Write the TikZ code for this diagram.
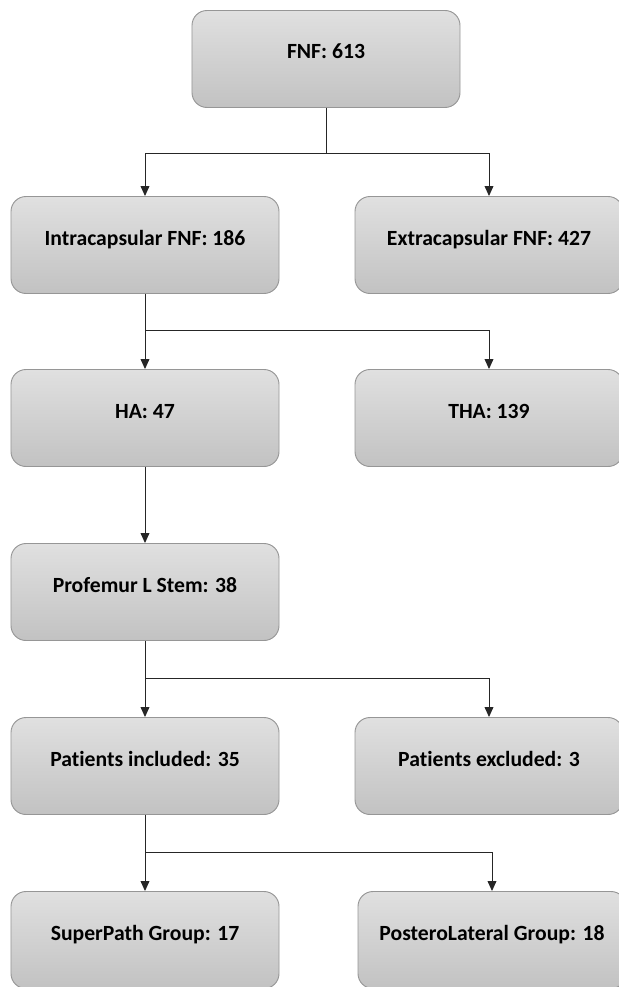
\documentclass[tikz,border=0pt]{standalone}
\usepackage{fontspec}
\setmainfont{Carlito}[RawFeature={-liga;-clig;-dlig;-calt;-rlig}]
\usetikzlibrary{arrows.meta}
\definecolor{boxTop}{RGB}{224,224,224}
\definecolor{boxBottom}{RGB}{194,194,194}
\definecolor{boxBorder}{RGB}{150,150,150}
\tikzset{
  box/.style = {draw=boxBorder, line width=0.8pt, rounded corners=0.45cm, top color=boxTop, bottom color=boxBottom, minimum width=8.04cm, minimum height=2.91cm, font=\fontsize{18.5}{20}\selectfont\bfseries, text height=0.3cm, text depth=0.3cm},
  link/.style = {color=#1, line width=0.8pt},
  flow/.style = {color=#1, line width=0.8pt, -{Triangle[width=7.5pt,length=8.5pt]}}
}

\begin{document}
\begin{tikzpicture}[x=0.03cm, y=-0.03cm]

    \useasboundingbox (0,0) rectangle (618,987);

    % Boxes
    \node[box] (fnf) at (326,59) {FNF: 613};
    \node[box] (intra) at (145,245) {Intracapsular FNF: 186};
    \node[box] (extra) at (489,245) {Extracapsular FNF: 427};
    \node[box] (ha) at (145,418) {HA: 47};
    \node[box] (tha) at (489,418) {THA: 139};
    \node[box] (profemur) at (145,592) {Profemur L Stem: 38};
    \node[box] (incl) at (145,766) {Patients included: 35};
    \node[box] (excl) at (489,766) {Patients excluded: 3};
    \node[box] (superpath) at (145,940) {SuperPath Group: 17};
    \node[box] (postero) at (492,940) {PosteroLateral Group: 18};

    % Junctions
    \coordinate (j1) at (326,153);
    \coordinate (j2) at (145,330);
    \coordinate (j3) at (145,678);
    \coordinate (j4) at (145,852);

    % Connectors
    \draw[link={black!85}] (fnf.south) -- (j1);
    \draw[flow={black!85}] (j1) -| (intra.north);
    \draw[flow={black!85}] (j1) -| (extra.north);

    \draw[link={black!85}] (intra.south) -- (j2);
    \draw[flow={black!85}] (j2) -- (ha.north);
    \draw[flow={black!85}] (j2) -| (tha.north);

    \draw[flow={black!85}] (ha.south) -- (profemur.north);

    \draw[link={black!85}] (profemur.south) -- (j3);
    \draw[flow={black!85}] (j3) -- (incl.north);
    \draw[flow={black!85}] (j3) -| (excl.north);

    \draw[link={black!85}] (incl.south) -- (j4);
    \draw[flow={black!85}] (j4) -- (superpath.north);
    \draw[flow={black!85}] (j4) -| (postero.north);

\end{tikzpicture}
\end{document}
